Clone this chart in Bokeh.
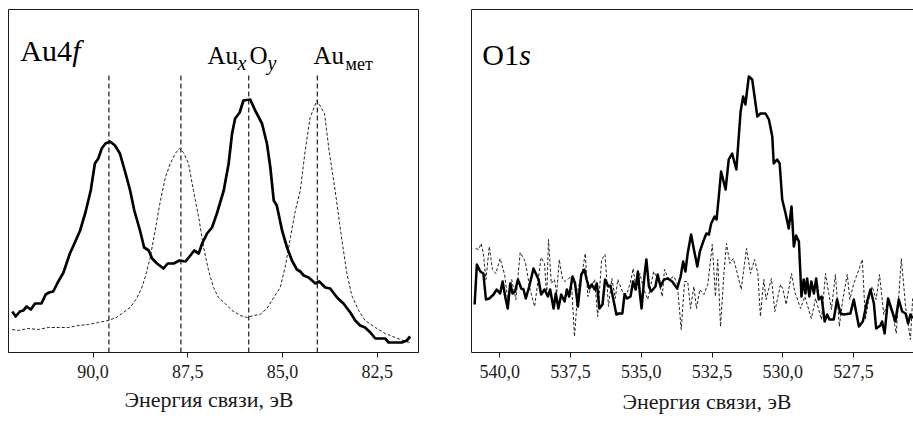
from bokeh.plotting import figure
from bokeh.layouts import row
from bokeh.models import Range1d, FixedTicker, LinearAxis, Label, Title
from bokeh.embed import file_html
from bokeh.resources import INLINE

# ---------------- data: Au4f panel ----------------
au_ticks = [90.0, 87.5, 85.0, 82.5]
au_tick_labels = ["90,0", "87,5", "85,0", "82,5"]
au_peak_lines = [89.58, 87.68, 85.89, 84.08]
au_peak_line_top = 277

au_solid_ev = [92.13, 92.04, 91.93, 91.84, 91.75, 91.64, 91.53, 91.36, 91.25, 91.16,
               91.05, 90.93, 90.78, 90.61, 90.49, 90.34, 90.20, 90.06, 89.95, 89.86,
               89.77, 89.67, 89.55, 89.42, 89.29, 89.14, 89.02, 88.91, 88.76, 88.65,
               88.53, 88.44, 88.31, 88.14, 88.03, 87.87, 87.72, 87.56, 87.43, 87.33,
               87.21, 87.12, 86.99, 86.86, 86.73, 86.55, 86.42, 86.33, 86.25, 86.13,
               86.03, 85.85, 85.72, 85.54, 85.41, 85.32, 85.23, 85.15, 85.01, 84.88,
               84.75, 84.62, 84.53, 84.44, 84.31, 84.13, 84.03, 83.87, 83.74, 83.56,
               83.39, 83.21, 83.08, 82.95, 82.82, 82.68, 82.55, 82.42, 82.29, 82.20,
               82.02, 81.85, 81.72, 81.63]
au_solid_int = [41, 36, 41, 42, 46, 43, 49, 49, 58, 60,
                61, 70, 80, 99, 109, 122, 140, 162, 189, 194,
                204, 209, 211, 207, 199, 179, 162, 142, 122, 105,
                102, 94, 89, 84, 89, 89, 92, 91, 97, 102,
                99, 109, 119, 125, 139, 162, 189, 219, 234, 240,
                252, 253, 242, 229, 209, 185, 152, 147, 122, 105,
                92, 83, 81, 77, 75, 69, 71, 65, 64, 55,
                49, 40, 32, 27, 25, 20, 14, 14, 14, 10,
                10, 10, 12, 16]

au_dash_ev = [92.13, 91.97, 91.71, 91.44, 91.18, 90.92, 90.65, 90.39, 90.12, 89.86,
              89.60, 89.38, 89.20, 89.02, 88.85, 88.72, 88.61, 88.49, 88.36, 88.22,
              88.09, 87.96, 87.83, 87.72, 87.61, 87.48, 87.35, 87.21, 87.08, 86.95,
              86.82, 86.69, 86.51, 86.33, 86.11, 85.94, 85.76, 85.59, 85.41, 85.23,
              85.06, 84.93, 84.79, 84.66, 84.53, 84.40, 84.27, 84.09, 83.89, 83.77,
              83.61, 83.43, 83.30, 83.17, 82.99, 82.82, 82.55, 82.29, 82.02, 81.76,
              81.63]
au_dash_int = [23, 22, 24, 23, 25, 25, 25, 27, 28, 30,
               32, 35, 40, 45, 54, 64, 77, 95, 122, 152,
               175, 189, 199, 204, 200, 189, 162, 135, 105, 82,
               65, 55, 49, 42, 37, 35, 37, 38, 44, 55,
               65, 85, 115, 142, 162, 202, 235, 252, 239, 202,
               162, 112, 79, 57, 42, 32, 25, 19, 15, 11,
               10]

# ---------------- data: O1s panel ----------------
o_ticks = [540.0, 537.5, 535.0, 532.5, 530.0, 527.5]
o_tick_labels = ["540,0", "537,5", "535,0", "532,5", "530,0", "527,5"]

o_solid_ev = [540.89, 540.81, 540.69, 540.58, 540.49, 540.37, 540.22, 540.11, 539.99, 539.90,
              539.81, 539.72, 539.63, 539.55, 539.46, 539.36, 539.24, 539.16, 539.08, 538.96,
              538.81, 538.63, 538.54, 538.42, 538.30, 538.22, 538.10, 538.02, 537.93, 537.83,
              537.71, 537.63, 537.55, 537.43, 537.34, 537.24, 537.12, 537.01, 536.93, 536.84,
              536.75, 536.65, 536.57, 536.48, 536.37, 536.28, 536.16, 536.09, 536.00, 535.88,
              535.79, 535.67, 535.59, 535.50, 535.38, 535.29, 535.20, 535.12, 535.05, 534.99,
              534.89, 534.82, 534.73, 534.65, 534.50, 534.42, 534.32, 534.20, 534.06, 533.91,
              533.73, 533.61, 533.52, 533.44, 533.36, 533.24, 533.14, 533.02, 532.93, 532.81,
              532.70, 532.61, 532.53, 532.41, 532.34, 532.26, 532.18, 532.02, 531.91, 531.79,
              531.64, 531.49, 531.40, 531.32, 531.20, 531.08, 530.90, 530.79, 530.61, 530.49,
              530.37, 530.32, 530.20, 530.11, 530.02, 529.90, 529.79, 529.69, 529.61, 529.53,
              529.43, 529.34, 529.26, 529.20, 529.14, 529.06, 528.99, 528.90, 528.82, 528.73,
              528.63, 528.52, 528.43, 528.35, 528.20, 528.08, 527.96, 527.84, 527.61, 527.49,
              527.31, 527.17, 527.02, 526.90, 526.78, 526.70, 526.55, 526.49, 526.40, 526.28,
              526.19, 526.11, 526.02, 525.90, 525.78, 525.66, 525.57, 525.49, 525.41]
o_solid_int = [48, 88, 81, 79, 53, 54, 58, 63, 59, 71,
               56, 44, 69, 59, 61, 73, 64, 63, 54, 66,
               84, 73, 58, 63, 56, 63, 44, 59, 44, 58,
               51, 63, 56, 76, 69, 46, 78, 83, 73, 64,
               68, 63, 69, 44, 48, 73, 66, 67, 55, 38,
               39, 39, 58, 54, 56, 71, 63, 81, 59, 44,
               76, 93, 66, 61, 66, 78, 66, 73, 74, 71,
               64, 76, 91, 81, 99, 118, 103, 86, 101, 111,
               119, 118, 129, 136, 133, 156, 181, 163, 193, 199,
               183, 241, 256, 248, 276, 273, 236, 239, 239, 233,
               216, 189, 193, 189, 153, 139, 124, 146, 106, 117,
               111, 56, 73, 59, 74, 56, 71, 59, 74, 53,
               56, 31, 38, 33, 33, 53, 39, 38, 39, 53,
               26, 31, 51, 63, 49, 24, 27, 31, 19, 54,
               46, 39, 31, 53, 41, 39, 29, 38, 34]

o_dash_ev = [540.85, 540.75, 540.66, 540.58, 540.49, 540.37, 540.26, 540.14, 539.99, 539.83,
             539.72, 539.58, 539.43, 539.28, 539.10, 538.93, 538.77, 538.54, 538.42, 538.34,
             538.28, 538.18, 538.07, 537.99, 537.90, 537.78, 537.69, 537.57, 537.48, 537.36,
             537.24, 537.10, 536.98, 536.89, 536.77, 536.65, 536.54, 536.40, 536.28, 536.16,
             536.04, 535.92, 535.83, 535.64, 535.50, 535.36, 535.29, 535.17, 535.05, 534.91,
             534.77, 534.56, 534.38, 534.26, 534.18, 534.03, 533.85, 533.73, 533.59, 533.47,
             533.36, 533.26, 533.14, 533.05, 532.93, 532.79, 532.65, 532.49, 532.38, 532.30,
             532.20, 532.08, 531.99, 531.87, 531.75, 531.64, 531.47, 531.28, 531.14, 531.00,
             530.88, 530.79, 530.67, 530.59, 530.40, 530.28, 530.08, 530.00, 529.88, 529.69,
             529.58, 529.37, 529.22, 528.99, 528.84, 528.63, 528.49, 528.28, 528.14, 528.00,
             527.88, 527.72, 527.63, 527.49, 527.31, 527.19, 527.08, 526.96, 526.84, 526.70,
             526.58, 526.43, 526.25, 526.11, 525.99, 525.81, 525.66, 525.49, 525.41]
o_dash_int = [104, 103, 109, 99, 73, 106, 83, 79, 94, 78,
              53, 73, 53, 100, 91, 63, 46, 95, 89, 56,
              113, 69, 73, 59, 93, 73, 71, 74, 76, 16,
              63, 78, 99, 56, 66, 73, 36, 93, 98, 46,
              74, 54, 73, 59, 59, 73, 84, 63, 79, 63,
              53, 81, 71, 56, 83, 73, 76, 69, 23, 71,
              71, 44, 66, 44, 63, 58, 68, 108, 56, 93,
              26, 79, 109, 89, 94, 83, 63, 104, 79, 93,
              79, 36, 73, 53, 74, 41, 68, 64, 48, 79,
              61, 44, 56, 34, 54, 33, 79, 43, 78, 26,
              53, 78, 53, 69, 83, 93, 33, 53, 66, 53,
              78, 38, 54, 38, 19, 94, 46, 13, 54]

axis_title = "Энергия связи, эВ"

FONT = "Liberation Serif"
INK = "#1a1a1a"


def style_xaxis(ax, ticks, labels):
    ax.ticker = FixedTicker(ticks=ticks)
    ax.major_label_overrides = {t: l for t, l in zip(ticks, labels)}
    ax.minor_tick_line_color = None
    ax.major_tick_in = 0
    ax.major_tick_out = 5
    ax.major_tick_line_color = INK
    ax.axis_line_color = INK
    ax.major_label_text_font = FONT
    ax.major_label_text_font_size = "18px"
    ax.major_label_text_color = INK
    ax.major_label_standoff = 7


def add_axis_title(p, offset, standoff):
    p.add_layout(Title(text=axis_title, align="left", offset=offset, standoff=standoff,
                       vertical_align="bottom", text_font=FONT, text_font_size="22px",
                       text_font_style="normal", text_color=INK), "below")


def lab(p, x, y, text, size, style="normal", dx=0):
    p.add_layout(Label(x=x, y=y, text=text, x_offset=dx,
                       text_font=FONT, text_font_size=size, text_font_style=style,
                       text_color="black", text_baseline="alphabetic", text_align="left"))


# ---------------- left panel ----------------
p1 = figure(frame_width=410, frame_height=343,
            min_border_left=8, min_border_right=22, min_border_top=9, min_border_bottom=69,
            x_range=Range1d(92.23, 81.41), y_range=Range1d(0, 343),
            output_backend="svg", toolbar_location=None)
p1.grid.visible = False
p1.yaxis.visible = False
p1.outline_line_color = INK
p1.outline_line_width = 1
p1.outline_line_alpha = 1
style_xaxis(p1.below[0], au_ticks, au_tick_labels)
add_axis_title(p1, 116, 8)

p1.segment(x0=au_peak_lines, y0=[0] * len(au_peak_lines),
           x1=au_peak_lines, y1=[au_peak_line_top] * len(au_peak_lines),
           line_color=INK, line_width=1.2, line_dash="5 3")
p1.line(au_dash_ev, au_dash_int, line_color="#222222", line_width=1, line_dash="3 2")
p1.line(au_solid_ev, au_solid_int, line_color="black", line_width=2.7, line_join="round")

lab(p1, 91.92, 302, "Au4", "30px")
lab(p1, 91.92, 302, "f", "30px", "italic", 52)
lab(p1, 86.98, 297, "Au", "25px")
lab(p1, 86.98, 290, "x", "20px", "italic", 30)
lab(p1, 86.98, 297, "O", "25px", "normal", 42)
lab(p1, 86.98, 290, "y", "20px", "italic", 60)
lab(p1, 84.18, 297, "Au", "25px")
lab(p1, 84.18, 289, "мет", "18px", "normal", 32)

# ---------------- right panel ----------------
p2 = figure(frame_width=442, frame_height=343,
            min_border_left=31, min_border_right=0, min_border_top=9, min_border_bottom=69,
            x_range=Range1d(541.0, 525.38), y_range=Range1d(0, 343),
            output_backend="svg", toolbar_location=None)
p2.grid.visible = False
p2.outline_line_color = None
yax = p2.left[0]
yax.ticker = FixedTicker(ticks=[])
yax.major_label_text_font_size = "0px"
yax.axis_line_color = INK
yax.major_tick_line_color = None
yax.minor_tick_line_color = None
top_ax = LinearAxis(ticker=FixedTicker(ticks=[]), axis_line_color=INK,
                    major_tick_line_color=None, minor_tick_line_color=None,
                    major_label_text_font_size="0px", major_label_standoff=0)
p2.add_layout(top_ax, "above")
style_xaxis(p2.below[0], o_ticks, o_tick_labels)
add_axis_title(p2, 151, 12)

p2.line(o_dash_ev, o_dash_int, line_color="#222222", line_width=1, line_dash="3 2")
p2.line(o_solid_ev, o_solid_int, line_color="black", line_width=2.5, line_join="round")

lab(p2, 540.62, 298, "O1", "30px")
lab(p2, 540.62, 298, "s", "30px", "italic", 37)

layout = row(p1, p2)
open("out.html", "w").write(file_html(layout, INLINE))
